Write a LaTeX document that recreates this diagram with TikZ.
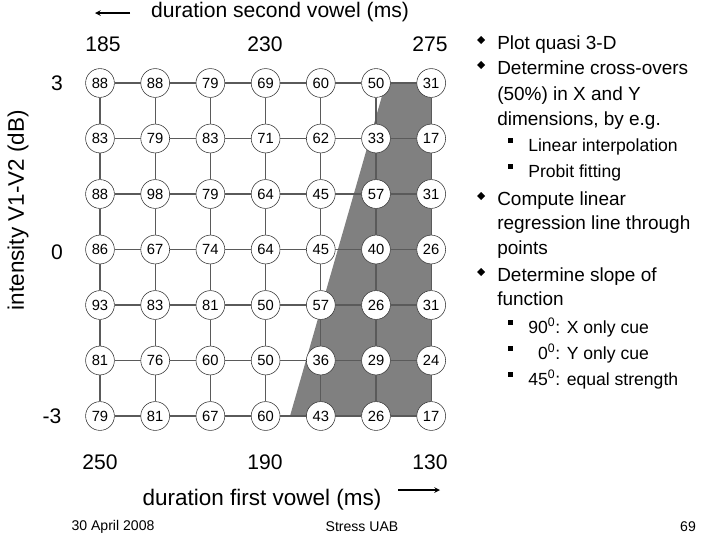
\documentclass[tikz,border=0pt]{standalone}
\usepackage{fontspec}
\setmainfont{Liberation Sans}
\usetikzlibrary{arrows, positioning, calc}
\definecolor{gridgray}{RGB}{90,90,90}
\definecolor{areagray}{RGB}{128,128,128}
\tikzstyle{cell} = [draw=gridgray!60!black, circle, fill=white, text=black, minimum size=0.72cm, inner sep=0pt, font=\fontsize{10.5}{10.5}\selectfont]
\tikzstyle{link} = [thick, gridgray]
\tikzstyle{txt} = [anchor=base west, inner sep=0pt, font=\fontsize{13.5}{13.5}\selectfont]
\tikzstyle{lbl} = [inner sep=0pt, font=\fontsize{15}{15}\selectfont]

\begin{document}
\begin{tikzpicture}[x=0.025cm, y=-0.025cm]
\useasboundingbox (0,0) rectangle (720,540);

% Shaded region
\fill[areagray] (290,416) -- (386,82) -- (431,82) -- (431,416) -- cycle;

% Grid of cells
\foreach \row/\vals in {1/{88,88,79,69,60,50,31}, 2/{83,79,83,71,62,33,17},
  3/{88,98,79,64,45,57,31}, 4/{86,67,74,64,45,40,26}, 5/{93,83,81,50,57,26,31},
  6/{81,76,60,50,36,29,24}, 7/{79,81,67,60,43,26,17}} {
  \foreach \v [count=\col] in \vals {
    \node[cell] (n-\row-\col) at ({100+55.2*(\col-1)},{83+55.5*(\row-1)}) {\v};
  }
}

% Links
\foreach \row in {1,...,7} {
  \foreach \col [evaluate=\col as \next using int(\col+1)] in {1,...,6} {
    \draw[link] (n-\row-\col) -- (n-\row-\next);
    \draw[link] (n-\col-\row) -- (n-\next-\row);
  }
}

% Axes
\node[lbl] (toplab) at (280,12) {duration second vowel (ms)};
\coordinate (ta) at (130,13);
\coordinate (tb) at (95,13);
\draw[->, >=stealth, thick] (ta) -- (tb);
\node[lbl] (t1) at (103,44) {185};
\node[lbl] (t2) at (265,44) {230};
\node[lbl] (t3) at (430,44) {275};
\node[lbl] (l1) at (57,83) {3};
\node[lbl] (l2) at (57,252) {0};
\node[lbl] (l3) at (52,416) {-3};
\node[lbl, rotate=90, font=\fontsize{16}{16}\selectfont] (leftlab) at (18,210) {intensity V1-V2 (dB)};
\node[lbl] (b1) at (100,462) {250};
\node[lbl] (b2) at (265,462) {190};
\node[lbl] (b3) at (430,462) {130};
\node[lbl, font=\fontsize{16}{16}\selectfont] (botlab) at (262,500) {duration first vowel (ms)};
\coordinate (ba) at (398,490);
\coordinate (bb) at (440,490);
\draw[->, >=stealth, thick] (ba) -- (bb);

% Bullets
\foreach \y in {44,69,200,276}
  \fill ({481-4},{\y-4}) -- (481,{\y-8}) -- ({481+4},{\y-4}) -- (481,\y) -- cycle;
\foreach \y in {146,172,328,354,380}
  \fill (508,{\y-8}) rectangle (513,{\y-3});
\node[txt] (p1) at (497,49) {Plot quasi 3-D};
\node[txt] (p2) at (497,74) {Determine cross-overs};
\node[txt] (p3) at (497,100) {(50\%) in X and Y};
\node[txt] (p4) at (497,125) {dimensions, by e.g.};
\node[txt, font=\fontsize{12.5}{12.5}\selectfont] (s1) at (528,151) {Linear interpolation};
\node[txt, font=\fontsize{12.5}{12.5}\selectfont] (s2) at (528,177) {Probit fitting};
\node[txt] (p5) at (497,205) {Compute linear};
\node[txt] (p6) at (497,229) {regression line through};
\node[txt] (p7) at (497,254) {points};
\node[txt] (p8) at (497,281) {Determine slope of};
\node[txt] (p9) at (497,305) {function};
\node[txt, font=\fontsize{12.5}{12.5}\selectfont] (s3) at (528,333) {90\textsuperscript{0}: X only cue};
\node[txt, font=\fontsize{12.5}{12.5}\selectfont] (s4) at (528,359) {\phantom{9}0\textsuperscript{0}: Y only cue};
\node[txt, font=\fontsize{12.5}{12.5}\selectfont] (s5) at (528,385) {45\textsuperscript{0}: equal strength};

% Footer
\node[font=\fontsize{10}{10}\selectfont] (f1) at (113,527) {30 April 2008};
\node[font=\fontsize{10}{10}\selectfont] (f2) at (362,527) {Stress UAB};
\node[font=\fontsize{10}{10}\selectfont] (f3) at (688,527) {69};
\end{tikzpicture}
\end{document}
